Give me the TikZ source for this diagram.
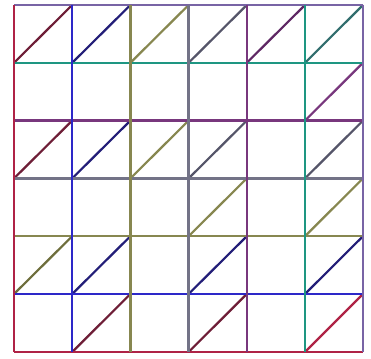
\documentclass[tikz,border=0pt]{standalone}
\begin{document}
\begin{tikzpicture}[x=1pt,y=-1pt,
  gridline/.style={line width=2.4pt},
  diagline/.style={line width=2.2pt}]
\definecolor{c0}{RGB}{175,35,70}
\definecolor{c1}{RGB}{45,40,200}
\definecolor{c2}{RGB}{135,135,80}
\definecolor{c3}{RGB}{115,115,135}
\definecolor{c4}{RGB}{120,55,125}
\definecolor{c5}{RGB}{30,150,130}
\definecolor{c6}{RGB}{120,100,165}
\definecolor{d0}{RGB}{110,30,55}
\definecolor{d1}{RGB}{35,30,120}
\definecolor{d2}{RGB}{110,110,60}
\definecolor{d3}{RGB}{85,85,105}
\definecolor{d4}{RGB}{95,40,100}
\definecolor{d5}{RGB}{50,110,110}
\useasboundingbox (0,0) rectangle (371,358);
\fill[white] (0,0) rectangle (371,358);
% coordinates
\foreach \i/\x in {0/14,1/72.2,2/130.4,3/188.6,4/246.8,5/305,6/363}
  \foreach \j/\y in {0/5,1/62.8,2/120.6,3/178.4,4/236.2,5/294,6/352}
    \coordinate (p\i\j) at (\x,\y);
% diagonals: cell (column,row from top) with colour
\foreach \c/\r/\col in {0/0/d0,1/0/d1,2/0/c2,3/0/d3,4/0/d4,5/0/d5,
    5/1/c4,
    0/2/d0,1/2/d1,2/2/c2,3/2/d3,5/2/d3,
    3/3/c2,5/3/c2,
    0/4/d2,1/4/d1,3/4/d1,5/4/d1,
    1/5/d0,3/5/d0,5/5/c0}{
  \pgfmathtruncatemacro{\cn}{\c+1}
  \pgfmathtruncatemacro{\rn}{\r+1}
  \draw[diagline,\col] (p\c\rn) -- (p\cn\r);
}
% horizontal lines (row index from top), colours
\foreach \j/\col in {0/c6,1/c5,2/c4,3/c3,4/c2,5/c1,6/c0}
  \draw[gridline,\col] (p0\j) -- (p6\j);
% vertical lines
\foreach \i/\col in {0/c0,1/c1,2/c2,3/c3,4/c4,5/c5,6/c6}
  \draw[gridline,\col] (p\i0) -- (p\i6);
\end{tikzpicture}
\end{document}
